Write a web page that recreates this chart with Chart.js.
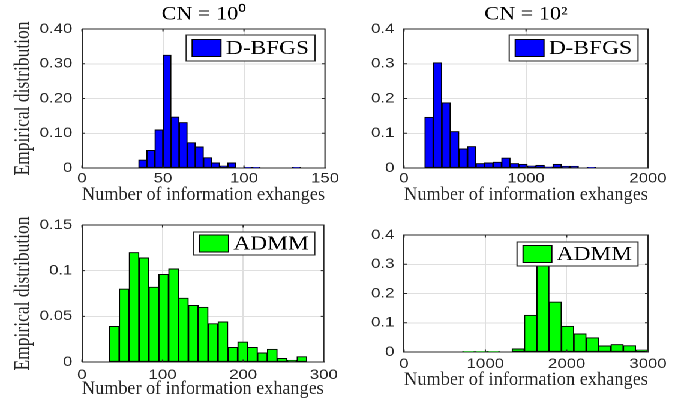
<!DOCTYPE html>
<html>
<head>
<meta charset="utf-8">
<script src="https://cdn.jsdelivr.net/npm/chart.js@4.4.1/dist/chart.umd.min.js"></script>
<style>
  html, body { margin: 0; padding: 0; background: #fff; }
  /* the figure is laid out narrow and stretched sideways, like the exported plot */
  #page { position: relative; width: 572px; height: 403px; transform: scaleX(1.2); transform-origin: 0 0; }
  .panel { position: absolute; }
</style>
</head>
<body>
<div id="page">
  <div class="panel" style="left:0;top:0;width:286px;height:210px"><canvas id="dbfgs0"></canvas></div>
  <div class="panel" style="left:286px;top:0;width:286px;height:210px"><canvas id="dbfgs2"></canvas></div>
  <div class="panel" style="left:0;top:200px;width:286px;height:203px"><canvas id="admm0"></canvas></div>
  <div class="panel" style="left:286px;top:200px;width:286px;height:203px"><canvas id="admm2"></canvas></div>
</div>
<script>
// histogram bin edges (n + 1 values) and bin heights
const edgesDbfgs0 = [35, 40, 45, 50, 55, 60, 65, 70, 75, 80, 85, 90, 95, 100, 105, 110, 115, 120, 125, 130, 135];
const dbfgsCN0 = [0.023, 0.051, 0.110, 0.325, 0.147, 0.131, 0.073, 0.061, 0.030, 0.015, 0.006, 0.015, 0, 0.002, 0.002, 0, 0, 0, 0, 0.002];

const edgesDbfgs2 = [170, 240, 310, 380, 450, 520, 590, 660, 730, 800, 870, 940, 1010, 1080, 1150, 1220, 1290, 1360, 1430, 1500, 1570];
const dbfgsCN2 = [0.146, 0.303, 0.188, 0.105, 0.055, 0.062, 0.013, 0.015, 0.017, 0.029, 0.013, 0.011, 0.006, 0.008, 0.003, 0.011, 0.005, 0.005, 0, 0.002];

const edgesAdmm0 = [34, 46.25, 58.5, 70.75, 83, 95.25, 107.5, 119.75, 132, 144.25, 156.5, 168.75, 181, 193.25, 205.5, 217.75, 230, 242.25, 254.5, 266.75, 279];
const admmCN0 = [0.039, 0.080, 0.120, 0.114, 0.082, 0.096, 0.102, 0.070, 0.062, 0.060, 0.042, 0.044, 0.016, 0.022, 0.016, 0.010, 0.014, 0.004, 0.002, 0.006];

const edgesAdmm2 = [720, 872, 1024, 1176, 1328, 1480, 1632, 1784, 1936, 2088, 2240, 2392, 2544, 2696, 2848, 3000];
const admmCN2 = [0.002, 0.002, 0.002, 0, 0.011, 0.126, 0.33, 0.171, 0.088, 0.062, 0.049, 0.021, 0.026, 0.022, 0.007];

// axis ticks
const xTicks0 = [0, 50, 100, 150];
const xTicks2 = [0, 1000, 2000];
const xTicksAdmm0 = [0, 100, 200, 300];
const xTicksAdmm2 = [0, 1000, 2000, 3000];
const yTicks4 = [0, 0.1, 0.2, 0.3, 0.4];
const yLabelsDbfgs0 = ['0', '0.10', '0.20', '0.30', '0.40'];
const yLabels4 = ['0', '0.1', '0.2', '0.3', '0.4'];
const yTicksAdmm0 = [0, 0.05, 0.1, 0.15];
const yLabelsAdmm0 = ['0', '0.05', '0.1', '0.15'];

const sans = "'Liberation Sans', Arial, sans-serif";
const serif = "'Liberation Serif', 'Times New Roman', serif";
const axisColor = '#262626';
const gridColor = '#dfdfdf';

Chart.defaults.font.family = sans;

// top/right box lines plus the small inward tick marks
const axesBox = {
    id: 'axesBox',
    afterDatasetsDraw(chart) {
        const {ctx, chartArea: a, scales} = chart;
        const len = 2.5;
        ctx.save();
        ctx.strokeStyle = axisColor;
        ctx.lineWidth = 1;
        ctx.beginPath();
        ctx.moveTo(a.left, a.top);
        ctx.lineTo(a.right, a.top);
        ctx.lineTo(a.right, a.bottom);
        scales.x.ticks.forEach(t => {
            let px = scales.x.getPixelForValue(t.value);
            ctx.moveTo(px, a.bottom); ctx.lineTo(px, a.bottom - len);
            ctx.moveTo(px, a.top); ctx.lineTo(px, a.top + len);
        });
        scales.y.ticks.forEach(t => {
            let py = scales.y.getPixelForValue(t.value);
            ctx.moveTo(a.left, py); ctx.lineTo(a.left + len, py);
            ctx.moveTo(a.right, py); ctx.lineTo(a.right - len, py);
        });
        ctx.stroke();
        ctx.restore();
    }
};

// framed legend in the upper right corner of the plot
const boxLegend = {
    id: 'boxLegend',
    afterDatasetsDraw(chart, args, opts) {
        const {ctx, chartArea} = chart;
        const ds = chart.data.datasets[0];
        ctx.save();
        ctx.font = opts.fontSize + 'px ' + serif;
        let textW = ctx.measureText(ds.label).width;
        let w = 5 + 24 + 4 + textW + 5;
        let h = opts.height;
        let x = chartArea.right - opts.right - w;
        let y = chartArea.top + opts.top;
        ctx.fillStyle = '#fff';
        ctx.fillRect(x, y, w, h);
        ctx.strokeStyle = axisColor;
        ctx.lineWidth = 1;
        ctx.strokeRect(x, y, w, h);
        let sh = 17;
        let sy = y + (h - sh) / 2;
        ctx.fillStyle = ds.backgroundColor;
        ctx.fillRect(x + 5, sy, 24, sh);
        ctx.strokeStyle = '#000';
        ctx.strokeRect(x + 5, sy, 24, sh);
        ctx.fillStyle = '#000';
        ctx.textBaseline = 'middle';
        ctx.fillText(ds.label, x + 33, y + h / 2 + 1);
        ctx.restore();
    }
};

function makeHistogram(id, cfg) {
    let points = cfg.values.map((v, i) => ({x: (cfg.edges[i] + cfg.edges[i + 1]) / 2, y: v}));
    return new Chart(id, {
        type: 'bar',
        data: {
            datasets: [{
                label: cfg.label,
                data: points,
                backgroundColor: cfg.color,
                borderColor: '#000',
                borderWidth: 1,
                borderSkipped: false,
                barPercentage: 1,
                categoryPercentage: 1
            }]
        },
        options: {
            responsive: true,
            maintainAspectRatio: false,
            devicePixelRatio: 2,
            animation: false,
            layout: { padding: { top: cfg.padTop, right: cfg.padRight, left: 0, bottom: 0 } },
            scales: {
                x: {
                    type: 'linear',
                    min: cfg.xTicks[0],
                    max: cfg.xTicks[cfg.xTicks.length - 1],
                    offset: false,
                    afterBuildTicks: s => { s.ticks = cfg.xTicks.map(v => ({value: v})); },
                    afterFit: s => { s.height = cfg.xHeight; },
                    grid: { color: gridColor, drawTicks: false, offset: false },
                    border: { color: axisColor },
                    ticks: {
                        autoSkip: false, maxRotation: 0, padding: cfg.xTickPad,
                        color: axisColor, font: { size: 14 },
                        callback: v => String(v)
                    },
                    title: {
                        display: true, text: 'Number of information exhanges', color: axisColor,
                        font: { family: serif, size: 19 },
                        padding: { top: 0, bottom: cfg.xTitlePad }
                    }
                },
                y: {
                    min: 0,
                    max: cfg.yTicks[cfg.yTicks.length - 1],
                    afterBuildTicks: s => { s.ticks = cfg.yTicks.map(v => ({value: v})); },
                    afterFit: s => { s.width = cfg.yWidth; },
                    grid: { color: gridColor, drawTicks: false },
                    border: { color: axisColor },
                    ticks: {
                        padding: 8, color: axisColor, font: { size: 14 },
                        callback: (v, i) => cfg.yLabels[i]
                    },
                    title: {
                        display: cfg.yTitle, text: 'Empirical distribution', color: axisColor,
                        font: { family: serif, size: 17.5 },
                        padding: { top: 9.1, bottom: 0 }
                    }
                }
            },
            plugins: {
                legend: { display: false },
                tooltip: { enabled: false },
                title: {
                    display: !!cfg.title, text: cfg.title, color: '#000',
                    fullSize: false,
                    font: { family: serif, size: 18.5, weight: 'normal' },
                    padding: { top: 3.5, bottom: 3.3 }
                },
                boxLegend: cfg.legend
            }
        },
        plugins: [axesBox, boxLegend]
    });
}

makeHistogram('dbfgs0', {
    label: 'D-BFGS', color: '#0000ff', edges: edgesDbfgs0, values: dbfgsCN0,
    xTicks: xTicks0, yTicks: yTicks4, yLabels: yLabelsDbfgs0,
    title: 'CN = 10⁰', yTitle: true, yWidth: 68.3, padTop: 0, padRight: 15.2,
    xHeight: 42, xTickPad: 2, xTitlePad: 3.6,
    legend: { fontSize: 19.5, height: 26, top: 6, right: 8.3 }
});

makeHistogram('dbfgs2', {
    label: 'D-BFGS', color: '#0000ff', edges: edgesDbfgs2, values: dbfgsCN2,
    xTicks: xTicks2, yTicks: yTicks4, yLabels: yLabels4,
    title: 'CN = 10²', yTitle: false, yWidth: 50.7, padTop: 0, padRight: 32,
    xHeight: 42, xTickPad: 2, xTitlePad: 3.6,
    legend: { fontSize: 19.5, height: 26, top: 6, right: 8.3 }
});

makeHistogram('admm0', {
    label: 'ADMM', color: '#00ff00', edges: edgesAdmm0, values: admmCN0,
    xTicks: xTicksAdmm0, yTicks: yTicksAdmm0, yLabels: yLabelsAdmm0,
    title: '', yTitle: true, yWidth: 68.3, padTop: 25, padRight: 16,
    xHeight: 41, xTickPad: 4.5, xTitlePad: 2.6,
    legend: { fontSize: 19.5, height: 23, top: 7, right: 7.5 }
});

makeHistogram('admm2', {
    label: 'ADMM', color: '#00ff00', edges: edgesAdmm2, values: admmCN2,
    xTicks: xTicksAdmm2, yTicks: yTicks4, yLabels: yLabels4,
    title: '', yTitle: false, yWidth: 50.7, padTop: 35, padRight: 32,
    xHeight: 51, xTickPad: 3.5, xTitlePad: 11.6,
    legend: { fontSize: 19.5, height: 24, top: 7, right: 8.3 }
});
</script>
</body>
</html>
